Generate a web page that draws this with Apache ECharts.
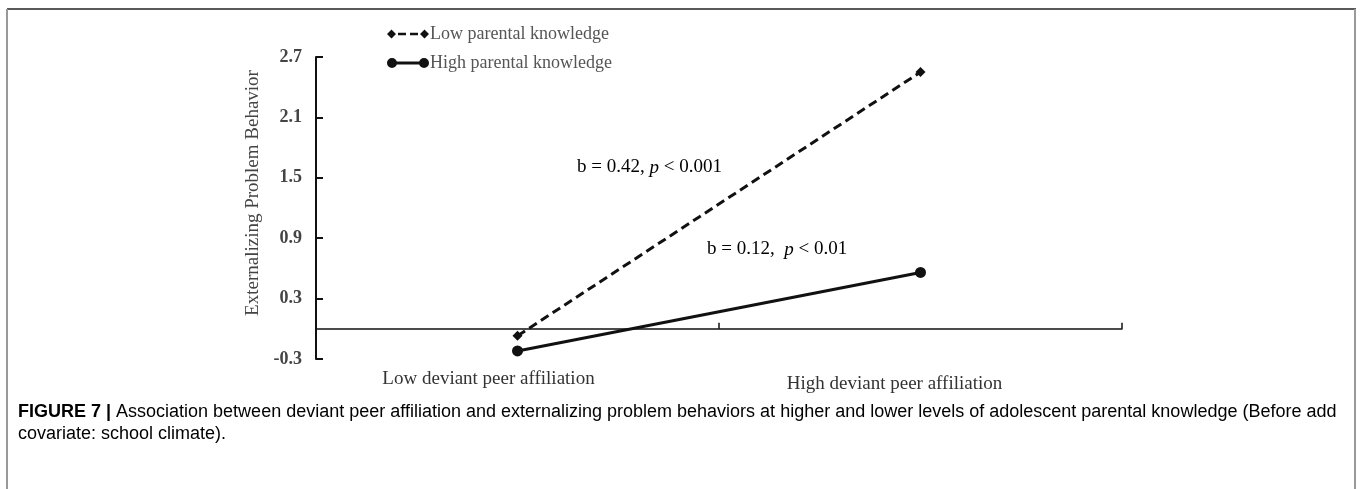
<!DOCTYPE html>
<html>
<head>
<meta charset="utf-8">
<script src="https://cdn.jsdelivr.net/npm/echarts@6/dist/echarts.min.js"></script>
<style>html,body{margin:0;padding:0;background:#fff}#c{width:1360px;height:489px}</style>
</head>
<body>
<div id="c"></div>
<script>
var categories = ['Low deviant peer affiliation', 'High deviant peer affiliation'];
var lowKnowledge = [-0.07, 2.55];
var highKnowledge = [-0.22, 0.56];
var seriesNames = ['Low parental knowledge', 'High parental knowledge'];
var yMin = -0.3, yMax = 2.7, yStep = 0.6;
var annotations = [
  {text: '{n|b = 0.42, }{i|p}{n| < 0.001}', x: 577, y: 165},
  {text: '{n|b = 0.12,  }{i|p}{n| < 0.01}', x: 707, y: 247}
];
var captionLines = [
  '{b|FIGURE 7 | }{n|Association between deviant peer affiliation and externalizing problem behaviors at higher and lower levels of adolescent parental knowledge (Before add}',
  '{n|covariate: school climate).}'
];

var serif = 'Liberation Serif, Times New Roman, serif';
var sans = 'Liberation Sans, Arial, Helvetica, sans-serif';
var ink = '#111';
var rich = {
  n: {fontFamily: serif, fontSize: 19, color: '#222'},
  i: {fontFamily: serif, fontSize: 19, color: '#222', fontStyle: 'italic'}
};
var capRich = {
  b: {fontFamily: sans, fontSize: 18, color: '#222', fontWeight: 'bold'},
  n: {fontFamily: sans, fontSize: 18, color: '#333'}
};

var chart = echarts.init(document.getElementById('c'), null, {renderer: 'canvas'});
var graphics = [
  {type: 'line', shape: {x1: 7, y1: 9, x2: 1356, y2: 9}, style: {stroke: '#222', lineWidth: 1.5}},
  {type: 'line', shape: {x1: 7, y1: 9, x2: 7, y2: 489}, style: {stroke: '#999', lineWidth: 2}},
  {type: 'line', shape: {x1: 1355, y1: 9, x2: 1355, y2: 489}, style: {stroke: '#999', lineWidth: 2}}
];
annotations.forEach(function (a) {
  graphics.push({type: 'text', left: a.x, top: a.y - 7, style: {text: a.text, rich: rich}});
});
captionLines.forEach(function (t, i) {
  graphics.push({type: 'text', left: 18, top: 403 + i * 22, style: {text: t, rich: capRich}});
});

chart.setOption({
  animation: false,
  backgroundColor: '#fff',
  grid: {left: 316, right: 238, top: 57, bottom: 130, containLabel: false},
  legend: {
    orient: 'vertical', left: 382, top: 20, itemGap: 11, itemWidth: 42, itemHeight: 10,
    data: [
      {name: seriesNames[0], icon: 'path://M0 5L4.5 0.5L9 5L4.5 9.5Z M11 3.8H19V6.2H11Z M23 3.8H31V6.2H23Z M33 5L37.5 0.5L42 5L37.5 9.5Z'},
      {name: seriesNames[1], icon: 'path://M0 5A5 5 0 1 1 10 5A5 5 0 1 1 0 5Z M9.5 3.5H32.5V6.5H9.5Z M32 5A5 5 0 1 1 42 5A5 5 0 1 1 32 5Z'}
    ],
    itemStyle: {color: ink, borderWidth: 0},
    textStyle: {fontFamily: serif, fontSize: 18, color: '#555', padding: [0, 0, 0, -4]}
  },
  xAxis: {
    type: 'category',
    data: [
      {value: categories[0], textStyle: {padding: [0, 58, 0, 0]}},
      {value: categories[1], textStyle: {padding: [5, 52, 0, 0]}}
    ],
    boundaryGap: true,
    axisLine: {onZero: true, lineStyle: {color: ink, width: 1.5}},
    axisTick: {show: true, inside: true, length: 6, interval: 0, lineStyle: {color: ink, width: 1.5}},
    axisLabel: {margin: 11, interval: 0, fontFamily: serif, fontSize: 19, color: '#333'},
    splitLine: {show: false}
  },
  yAxis: {
    type: 'value', min: yMin, max: yMax, interval: yStep,
    name: 'Externalizing Problem Behavior', nameLocation: 'middle', nameGap: 53,
    nameTextStyle: {fontFamily: serif, fontSize: 19, color: '#444', padding: [0, 0, 0, 30]},
    axisLine: {show: true, lineStyle: {color: ink, width: 2}},
    axisTick: {show: true, inside: true, length: 7, lineStyle: {color: ink, width: 2}},
    axisLabel: {margin: 14, fontFamily: serif, fontSize: 18, fontWeight: 'bold', color: '#444',
      formatter: function (v) { return (Math.round(v * 10) / 10).toFixed(1); }},
    splitLine: {show: false}
  },
  series: [
    {name: seriesNames[0], type: 'line', data: lowKnowledge, symbol: 'diamond', symbolSize: 10,
      itemStyle: {color: ink}, lineStyle: {color: ink, width: 3, type: [9, 5]}},
    {name: seriesNames[1], type: 'line', data: highKnowledge, symbol: 'circle', symbolSize: 11,
      itemStyle: {color: ink}, lineStyle: {color: ink, width: 3}}
  ],
  graphic: graphics
});
</script>
</body>
</html>
